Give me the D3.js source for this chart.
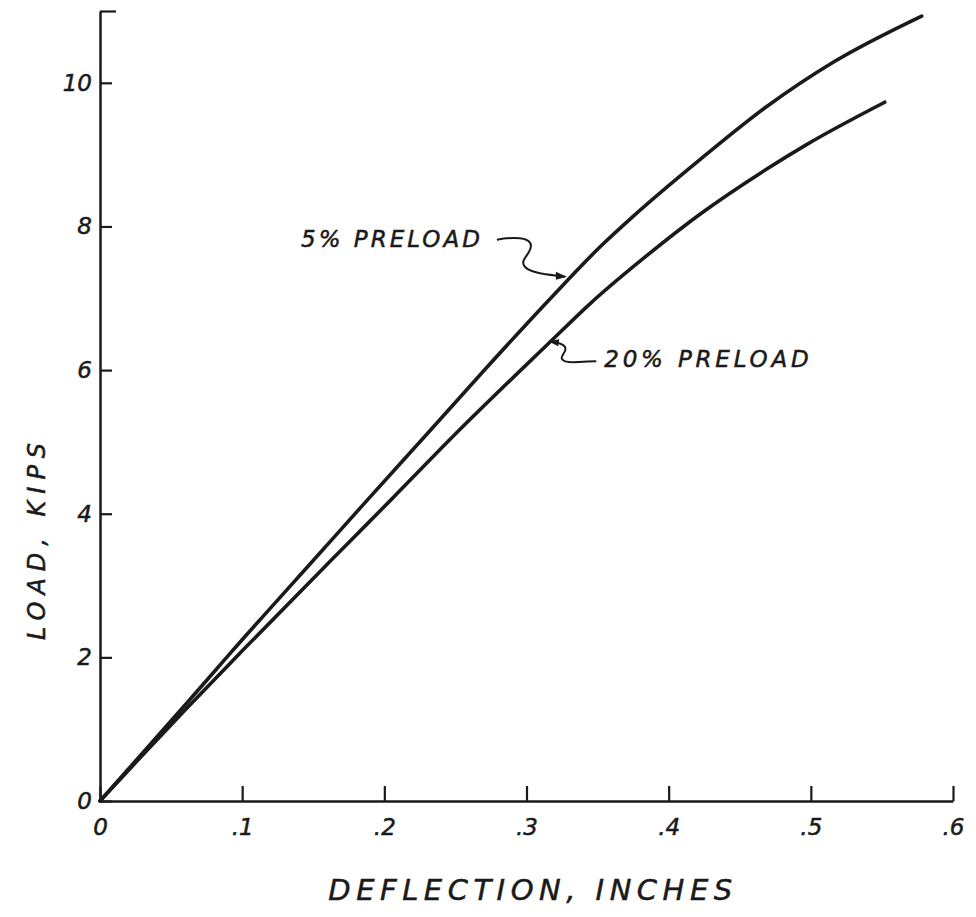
<!DOCTYPE html>
<html>
<head>
<meta charset="utf-8">
<script src="https://cdn.jsdelivr.net/npm/d3@7"></script>
<style>
  body { margin: 0; background: #fff; }
  svg text { font-family: "DejaVu Sans", sans-serif; font-style: italic; fill: #1a1a1a; stroke: #1a1a1a; stroke-width: 0.5px; }
</style>
</head>
<body>
<svg id="chart" width="976" height="917"></svg>
<script>
// load-deflection readings, 5% preload
const defl5 = [0, 0.03, 0.06, 0.09, 0.155, 0.188, 0.23, 0.269, 0.316, 0.352, 0.375, 0.422, 0.469, 0.516, 0.578];
const load5 = [0, 0.67, 1.34, 2.02, 3.46, 4.19, 5.11, 5.97, 6.98, 7.72, 8.14, 8.93, 9.67, 10.29, 10.93];
// 20% preload
const defl20 = [0, 0.03, 0.06, 0.098, 0.175, 0.205, 0.251, 0.316, 0.345, 0.385, 0.422, 0.469, 0.497, 0.552];
const load20 = [0, 0.64, 1.27, 2.05, 3.60, 4.20, 5.13, 6.38, 6.93, 7.60, 8.17, 8.80, 9.14, 9.73];

const xTicks = [0, 0.1, 0.2, 0.3, 0.4, 0.5, 0.6];
const yTicks = [0, 2, 4, 6, 8, 10, 11];

const svg = d3.select("#chart");
const ink = "#1a1a1a";

const x = d3.scaleLinear().domain([0, 0.6]).range([100, 953]);
const y = d3.scaleLinear().domain([0, 11]).range([801, 11]);

// x axis, ticks pointing up
const xAxis = svg.append("g")
  .attr("transform", "translate(0," + y(0) + ")")
  .call(d3.axisBottom(x).tickValues(xTicks).tickSizeInner(-15).tickSizeOuter(0).tickPadding(18)
    .tickFormat(d => d === 0 ? "0" : d3.format(".1f")(d).replace(/^0/, "")));

// y axis, ticks pointing right
const yAxis = svg.append("g")
  .attr("transform", "translate(" + x(0) + ",0)")
  .call(d3.axisLeft(y).tickValues(yTicks).tickSizeInner(-12).tickSizeOuter(0).tickPadding(8)
    .tickFormat(d => d === 11 ? "" : d));

svg.selectAll(".domain").attr("stroke", ink).attr("stroke-width", 2.5);
svg.selectAll(".tick line").attr("stroke", ink).attr("stroke-width", 2.2);
svg.selectAll(".tick text").style("font-size", "23px").attr("fill", ink);
yAxis.selectAll(".tick").filter(d => d === 11).select("line").attr("x2", 16);

// curves
const line = d3.line()
  .x(d => x(d[0]))
  .y(d => y(d[1]))
  .curve(d3.curveMonotoneX);

const series = [d3.zip(defl5, load5), d3.zip(defl20, load20)];
svg.selectAll("path.curve")
  .data(series)
  .enter()
  .append("path")
  .attr("class", "curve")
  .attr("fill", "none")
  .attr("stroke", ink)
  .attr("stroke-width", 3.6)
  .attr("stroke-linecap", "round")
  .attr("d", line);

// labels with wavy leaders
const a5 = [x(0.327), y(7.30)];
const g5 = svg.append("g").attr("transform", "translate(" + a5[0] + "," + a5[1] + ")");
g5.append("path")
  .attr("d", "M-68,-37 C-52,-40 -34,-40 -34,-31 C-34,-22 -46,-17 -40,-10 C-34,-3 -14,-2 0,0")
  .attr("fill", "none").attr("stroke", ink).attr("stroke-width", 2);
g5.append("path").attr("d", "M-9,-5 L2,0 L-9,3 Z").attr("fill", ink);
g5.append("text")
  .attr("x", -82).attr("y", -30)
  .attr("text-anchor", "end")
  .style("font-size", "23px").style("letter-spacing", "3px")
  .text("5% PRELOAD");

const a20 = [x(0.316), y(6.40)];
const g20 = svg.append("g").attr("transform", "translate(" + a20[0] + "," + a20[1] + ")");
g20.append("path")
  .attr("d", "M0,0 C8,1 18,3 16,9 C14,14 9,17 16,20 C22,22 35,20 47,20")
  .attr("fill", "none").attr("stroke", ink).attr("stroke-width", 2);
g20.append("path").attr("d", "M10,-2 L-1,0 L9,5 Z").attr("fill", ink);
g20.append("text")
  .attr("x", 55).attr("y", 26)
  .style("font-size", "23px").style("letter-spacing", "3.8px")
  .text("20% PRELOAD");

// axis titles
svg.append("text")
  .attr("x", 533).attr("y", 900)
  .attr("text-anchor", "middle")
  .style("font-size", "29px").style("letter-spacing", "5.5px")
  .text("DEFLECTION, INCHES");

svg.append("text")
  .attr("transform", "translate(45,538) rotate(-90)")
  .attr("text-anchor", "middle")
  .style("font-size", "24px").style("letter-spacing", "7px")
  .text("LOAD, KIPS");
</script>
</body>
</html>
